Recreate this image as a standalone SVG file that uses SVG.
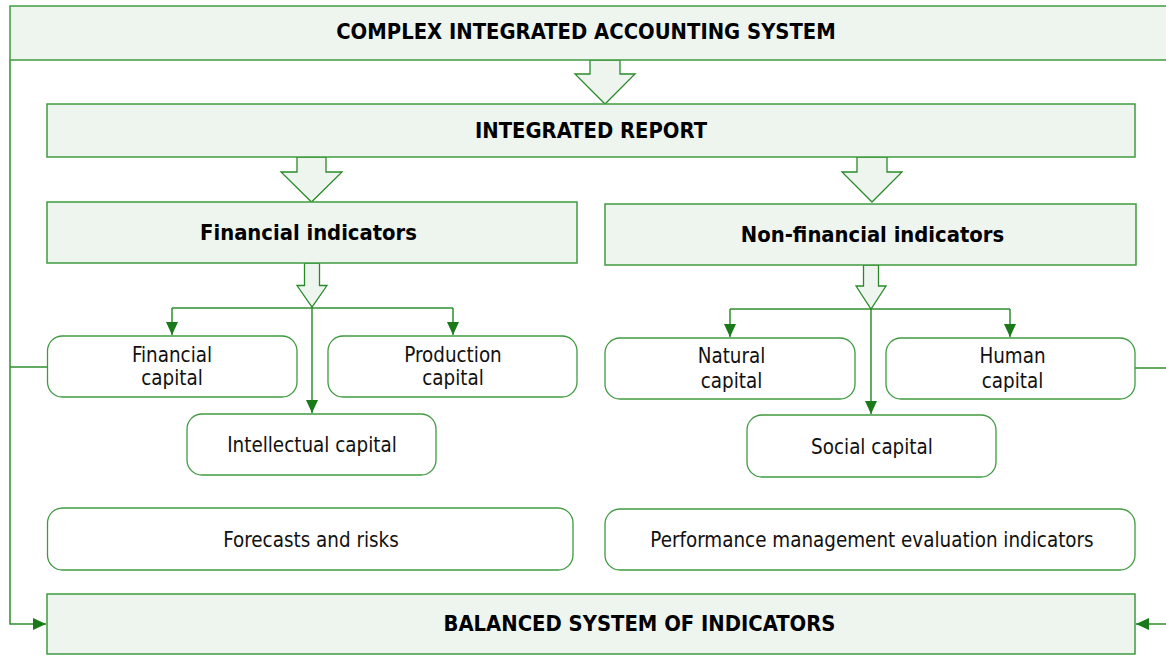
<svg xmlns="http://www.w3.org/2000/svg" width="1166" height="657" viewBox="0 0 1166 657">
<defs>
<style>
.hdr{fill:#eef5ef;stroke:#3f9a3f;stroke-width:1.5}
.rbox{fill:#ffffff;stroke:#3f9a3f;stroke-width:1.3}
.blk{fill:#eef5ef;stroke:#2a8a2a;stroke-width:1.3}
.con{fill:none;stroke:#2f8f2f;stroke-width:1.5}
.b{font-family:"DejaVu Sans Condensed","DejaVu Sans",sans-serif;font-weight:bold;font-size:21.8px;fill:#000;text-anchor:middle}
.t{font-family:"DejaVu Sans Condensed","DejaVu Sans",sans-serif;font-size:20.4px;fill:#111;text-anchor:middle}
</style>
<marker id="ah" markerUnits="userSpaceOnUse" markerWidth="14" markerHeight="14" viewBox="0 0 14 14" refX="13" refY="7" orient="auto">
<path d="M0,1 L13,7 L0,13 Z" fill="#1a7a1a"/>
</marker>
</defs>

<g id="connectors">
<path class="con" d="M10,60 V624 H46" marker-end="url(#ah)"/>
<path class="con" d="M47,367 H10"/>
<path class="con" d="M1135,368 H1166"/>
<path class="con" d="M1166,624 H1136" marker-end="url(#ah)"/>
<path class="con" d="M172,308 H453"/>
<path class="con" d="M172,308 V335" marker-end="url(#ah)"/>
<path class="con" d="M453,308 V335" marker-end="url(#ah)"/>
<path class="con" d="M312,307 V413" marker-end="url(#ah)"/>
<path class="con" d="M730,309 H1010"/>
<path class="con" d="M730,309 V337" marker-end="url(#ah)"/>
<path class="con" d="M1010,309 V337" marker-end="url(#ah)"/>
<path class="con" d="M871,309 V414" marker-end="url(#ah)"/>
</g>

<g id="arrows">
<polygon class="blk" points="590,60 620,60 620,74 635,74 605,104 575,74 590,74"/>
<polygon class="blk" points="297,157 326,157 326,172 342,172 311.5,202 281,172 297,172"/>
<polygon class="blk" points="857,157 887,157 887,172 902,172 872,202 842,172 857,172"/>
<polygon class="blk" points="304.5,263 319.5,263 319.5,285.5 327,285.5 312,307 297,285.5 304.5,285.5"/>
<polygon class="blk" points="863.5,265 878.5,265 878.5,286 886,286 871,309 856,286 863.5,286"/>
</g>

<g id="n-complex">
<rect class="hdr" x="10" y="6" width="1160" height="54"/>
<text class="b" x="586" y="39">COMPLEX INTEGRATED ACCOUNTING SYSTEM</text>
</g>
<g id="n-report">
<rect class="hdr" x="47" y="104" width="1088" height="53"/>
<text class="b" x="591" y="138">INTEGRATED REPORT</text>
</g>
<g id="n-fin">
<rect class="hdr" x="47" y="202" width="530" height="61"/>
<text class="b" x="308.5" y="240">Financial indicators</text>
</g>
<g id="n-nonfin">
<rect class="hdr" x="605" y="204" width="531" height="61"/>
<text class="b" x="872.5" y="242">Non-financial indicators</text>
</g>
<g id="n-fincap">
<rect class="rbox" x="47.5" y="336" width="249.5" height="61" rx="15"/>
<text class="t" x="172" y="362">Financial</text>
<text class="t" x="172" y="385">capital</text>
</g>
<g id="n-prodcap">
<rect class="rbox" x="328" y="336" width="249" height="61" rx="15"/>
<text class="t" x="453" y="362">Production</text>
<text class="t" x="453" y="385">capital</text>
</g>
<g id="n-intcap">
<rect class="rbox" x="187" y="414" width="249" height="61" rx="15"/>
<text class="t" x="312" y="452">Intellectual capital</text>
</g>
<g id="n-natcap">
<rect class="rbox" x="605" y="338" width="250" height="61" rx="15"/>
<text class="t" x="731.5" y="363">Natural</text>
<text class="t" x="731.5" y="388">capital</text>
</g>
<g id="n-humcap">
<rect class="rbox" x="886" y="338" width="249" height="61" rx="15"/>
<text class="t" x="1012.5" y="363">Human</text>
<text class="t" x="1012.5" y="388">capital</text>
</g>
<g id="n-soccap">
<rect class="rbox" x="747" y="415" width="249" height="62" rx="15"/>
<text class="t" x="872" y="454">Social capital</text>
</g>
<g id="n-forecasts">
<rect class="rbox" x="47.5" y="508" width="525.5" height="62" rx="15"/>
<text class="t" x="311" y="547">Forecasts and risks</text>
</g>
<g id="n-performance">
<rect class="rbox" x="605" y="509" width="530" height="61" rx="15"/>
<text class="t" x="872" y="547">Performance management evaluation indicators</text>
</g>
<g id="n-balanced">
<rect class="hdr" x="47" y="594" width="1088" height="60"/>
<text class="b" x="639.5" y="631">BALANCED SYSTEM OF INDICATORS</text>
</g>
</svg>
